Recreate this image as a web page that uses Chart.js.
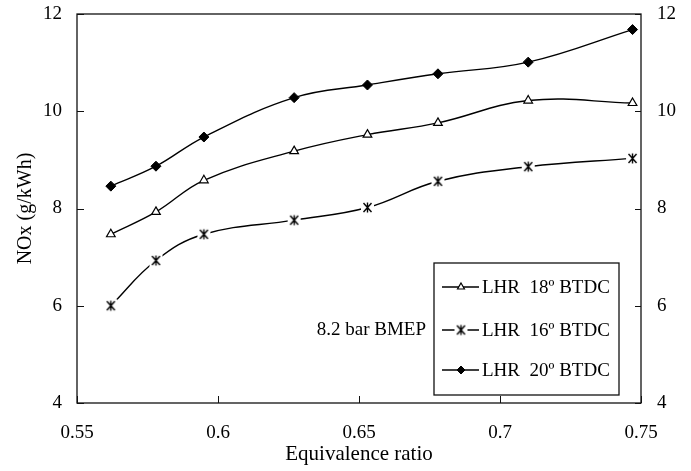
<!DOCTYPE html>
<html>
<head>
<meta charset="utf-8">
<script src="https://cdn.jsdelivr.net/npm/chart.js@4/dist/chart.umd.min.js"></script>
<style>
    html, body { margin: 0; padding: 0; background: #fff; }
    #wrap { width: 691px; height: 471px; }
</style>
</head>
<body>
<div id="wrap"><canvas id="nox-chart" width="691" height="471"></canvas></div>
<script>
// values
const phi = [0.562, 0.578, 0.595, 0.627, 0.653, 0.678, 0.710, 0.747];
const lhr18 = [7.47, 7.93, 8.58, 9.18, 9.52, 9.76, 10.22, 10.17];
const lhr16 = [6.00, 6.93, 7.47, 7.76, 8.02, 8.56, 8.86, 9.03];
const lhr20 = [8.46, 8.87, 9.47, 10.28, 10.54, 10.77, 11.01, 11.68];
const seriesNames = ['LHR  18\u00BA BTDC', 'LHR  16\u00BA BTDC', 'LHR  20\u00BA BTDC'];
const xTicks = [0.55, 0.6, 0.65, 0.7, 0.75];
const yTicks = [4, 6, 8, 10, 12];
const noteText = '8.2 bar BMEP';

const serif = "'Liberation Serif', 'DejaVu Serif', serif";

// asterisk marker with a white backing so the line breaks around it
function makeStar() {
    const c = document.createElement('canvas');
    c.width = 15; c.height = 15;
    const g = c.getContext('2d');
    g.fillStyle = '#fff';
    g.fillRect(1, 1, 13, 13);
    g.strokeStyle = '#000';
    g.lineWidth = 1.4;
    g.beginPath();
    g.moveTo(7.5, 2.5); g.lineTo(7.5, 12.5);
    g.moveTo(3.5, 3); g.lineTo(11.5, 12);
    g.moveTo(11.5, 3); g.lineTo(3.5, 12);
    g.stroke();
    return c;
}
const starMarker = makeStar();

function toPoints(ys) {
    return phi.map((x, i) => ({x: x, y: ys[i]}));
}

const datasets = [
    {
        label: seriesNames[0],
        data: toPoints(lhr18),
        pointStyle: 'triangle',
        pointRadius: 5,
        backgroundColor: '#fff',
        borderColor: '#000',
        pointBorderWidth: 1.2
    },
    {
        label: seriesNames[1],
        data: toPoints(lhr16),
        pointStyle: starMarker,
        pointRadius: 7,
        backgroundColor: '#fff',
        borderColor: '#000'
    },
    {
        label: seriesNames[2],
        data: toPoints(lhr20),
        pointStyle: 'rectRot',
        pointRadius: 5,
        backgroundColor: '#000',
        borderColor: '#000',
        pointBorderWidth: 1
    }
];
datasets.forEach(ds => {
    ds.borderWidth = 1.4;
    ds.tension = 0.4;
    ds.fill = false;
    ds.clip = false;
});

// frame, inward tick marks, legend box and note
const framePlugin = {
    id: 'frame',
    afterDraw(chart) {
        const ctx = chart.ctx;
        const a = chart.chartArea;
        const xs = chart.scales.x, ys = chart.scales.y;
        ctx.save();
        ctx.strokeStyle = '#111';
        ctx.lineWidth = 1.3;
        ctx.strokeRect(a.left, a.top, a.right - a.left, a.bottom - a.top);

        ctx.lineWidth = 1;
        ctx.beginPath();
        xTicks.forEach(v => {
            const px = Math.round(xs.getPixelForValue(v)) + 0.5;
            ctx.moveTo(px, a.bottom);
            ctx.lineTo(px, a.bottom - 7);
        });
        yTicks.forEach(v => {
            const py = Math.round(ys.getPixelForValue(v)) + 0.5;
            ctx.moveTo(a.left, py); ctx.lineTo(a.left + 7, py);
            ctx.moveTo(a.right, py); ctx.lineTo(a.right - 6, py);
        });
        ctx.stroke();

        // legend
        const boxW = 185, boxH = 132;
        const bx = a.right - 22 - boxW, by = a.bottom - 8 - boxH;
        ctx.fillStyle = '#fff';
        ctx.fillRect(bx, by, boxW, boxH);
        ctx.lineWidth = 1.3;
        ctx.strokeStyle = '#111';
        ctx.strokeRect(bx, by, boxW, boxH);

        ctx.font = '19px ' + serif;
        ctx.textBaseline = 'middle';
        const rows = [24, 67, 107];
        chart.data.datasets.forEach((ds, i) => {
            const yy = by + rows[i];
            ctx.strokeStyle = '#000';
            ctx.lineWidth = 1.3;
            ctx.beginPath();
            ctx.moveTo(bx + 8, yy);
            ctx.lineTo(bx + 45, yy);
            ctx.stroke();
            ctx.fillStyle = ds.backgroundColor;
            ctx.strokeStyle = ds.borderColor;
            ctx.lineWidth = ds.pointBorderWidth || 1;
            Chart.helpers.drawPoint(ctx, {
                pointStyle: ds.pointStyle,
                radius: ds.pointRadius - 1,
                rotation: 0,
                borderWidth: ds.pointBorderWidth || 1
            }, bx + 27, yy);
            ctx.fillStyle = '#000';
            ctx.textAlign = 'left';
            ctx.fillText(ds.label, bx + 48, yy + 1);
        });

        ctx.textAlign = 'right';
        ctx.fillStyle = '#000';
        ctx.fillText(noteText, bx - 8, by + rows[1]);
        ctx.restore();
    }
};

function fixVertical(width) {
    return s => {
        s.width = width;
        s.paddingTop = 0;
        s.paddingBottom = 0;
    };
}

new Chart(document.getElementById('nox-chart'), {
    type: 'line',
    data: {datasets: datasets},
    options: {
        responsive: false,
        animation: false,
        layout: {padding: {top: 14, left: 0, right: 0, bottom: 0}},
        plugins: {
            legend: {display: false},
            tooltip: {enabled: false}
        },
        scales: {
            x: {
                type: 'linear',
                min: 0.55,
                max: 0.75,
                afterFit: s => { s.height = 68; s.paddingLeft = 0; s.paddingRight = 0; },
                afterBuildTicks: s => { s.ticks = xTicks.map(v => ({value: v})); },
                grid: {display: false, drawTicks: false},
                border: {display: false},
                ticks: {
                    padding: 19,
                    color: '#000',
                    font: {family: serif, size: 19},
                    callback: v => String(v)
                },
                title: {
                    display: true,
                    text: 'Equivalence ratio',
                    color: '#000',
                    font: {family: serif, size: 21},
                    padding: {top: 0, bottom: 4}
                }
            },
            y: {
                position: 'left',
                min: 4,
                max: 12,
                afterFit: fixVertical(77),
                afterBuildTicks: s => { s.ticks = yTicks.map(v => ({value: v})); },
                grid: {display: false, drawTicks: false},
                border: {display: false},
                ticks: {
                    padding: 15,
                    color: '#000',
                    font: {family: serif, size: 19}
                },
                title: {
                    display: true,
                    text: 'NOx (g/kWh)',
                    color: '#000',
                    font: {family: serif, size: 20},
                    padding: {top: 14, bottom: 0}
                }
            },
            y2: {
                position: 'right',
                min: 4,
                max: 12,
                afterFit: fixVertical(50),
                afterBuildTicks: s => { s.ticks = yTicks.map(v => ({value: v})); },
                grid: {display: false, drawTicks: false},
                border: {display: false},
                ticks: {
                    padding: 16,
                    color: '#000',
                    font: {family: serif, size: 19}
                }
            }
        }
    },
    plugins: [framePlugin]
});
</script>
</body>
</html>
